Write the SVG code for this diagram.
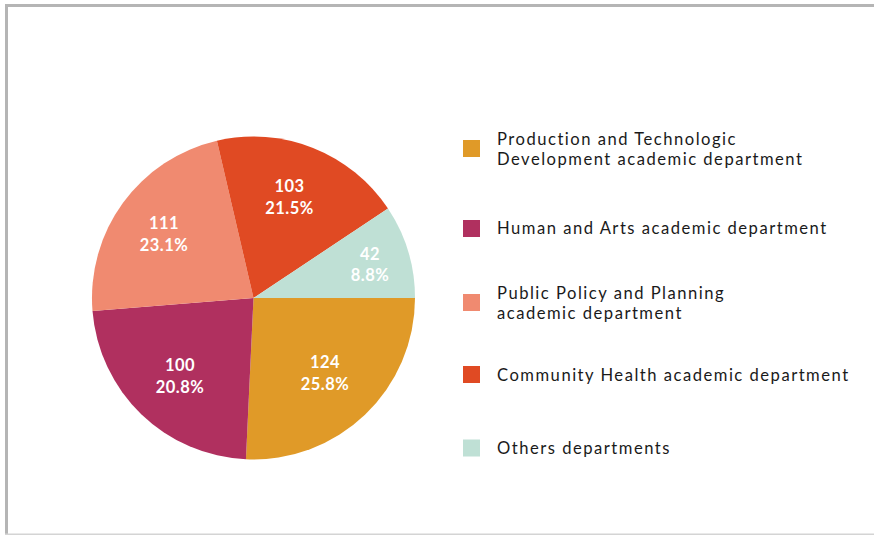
<svg xmlns="http://www.w3.org/2000/svg" width="874" height="535" viewBox="0 0 874 535">
<style>
.lbl{font-family:Lato,"Open Sans","DejaVu Sans",sans-serif;font-weight:bold;font-size:16.5px;fill:#fff;text-anchor:middle;letter-spacing:0.5px}
.leg{font-family:Lato,"Open Sans","DejaVu Sans",sans-serif;font-size:16.6px;fill:#1a1a1a;letter-spacing:1.5px}
</style>
<rect width="874" height="535" fill="#fff"/>
<g id="frame">
<rect x="5" y="4" width="870" height="3" fill="#b5b5b5"/>
<rect x="5" y="4" width="3" height="531" fill="#b5b5b5"/>
<rect x="5" y="533.5" width="870" height="1.5" fill="#d4d4d4"/>
</g>
<g id="pie">
<g id="slice-production"><path d="M253.5,298 L415,298 A161.5,161.5 0 0 1 245.95,459.3 Z" fill="#E09A28"/>
<text class="lbl" x="325" y="368">124</text><text class="lbl" x="325" y="390">25.8%</text></g>
<g id="slice-human"><path d="M253.5,298 L245.95,459.3 A161.5,161.5 0 0 1 92.5,311.1 Z" fill="#B0305F"/>
<text class="lbl" x="180" y="371">100</text><text class="lbl" x="180" y="393">20.8%</text></g>
<g id="slice-public"><path d="M253.5,298 L92.5,311.1 A161.5,161.5 0 0 1 216.9,140.7 Z" fill="#F08A70"/>
<text class="lbl" x="164" y="229">111</text><text class="lbl" x="164" y="251">23.1%</text></g>
<g id="slice-community"><path d="M253.5,298 L216.9,140.7 A161.5,161.5 0 0 1 388,208.6 Z" fill="#E04A23"/>
<text class="lbl" x="289.5" y="191.5">103</text><text class="lbl" x="289.5" y="213.5">21.5%</text></g>
<g id="slice-others"><path d="M253.5,298 L388,208.6 A161.5,161.5 0 0 1 415,298 Z" fill="#BFE0D5"/>
<text class="lbl" x="370" y="259.5">42</text><text class="lbl" x="370" y="281">8.8%</text></g>
</g>
<g id="legend">
<g id="legend-production"><rect x="463" y="140" width="17" height="17" fill="#E09A28"/>
<text class="leg" x="497" y="145">Production and Technologic</text><text class="leg" x="497" y="165">Development academic department</text></g>
<g id="legend-human"><rect x="463" y="220" width="17" height="17" fill="#B0305F"/>
<text class="leg" x="497" y="234">Human and Arts academic department</text></g>
<g id="legend-public"><rect x="463" y="294" width="17" height="17" fill="#F08A70"/>
<text class="leg" x="497" y="298.5">Public Policy and Planning</text><text class="leg" x="497" y="318.5">academic department</text></g>
<g id="legend-community"><rect x="463" y="366" width="17" height="17" fill="#E04A23"/>
<text class="leg" x="497" y="381">Community Health academic department</text></g>
<g id="legend-others"><rect x="463" y="439.5" width="17" height="17" fill="#BFE0D5"/>
<text class="leg" x="497" y="453.5">Others departments</text></g>
</g>
</svg>
